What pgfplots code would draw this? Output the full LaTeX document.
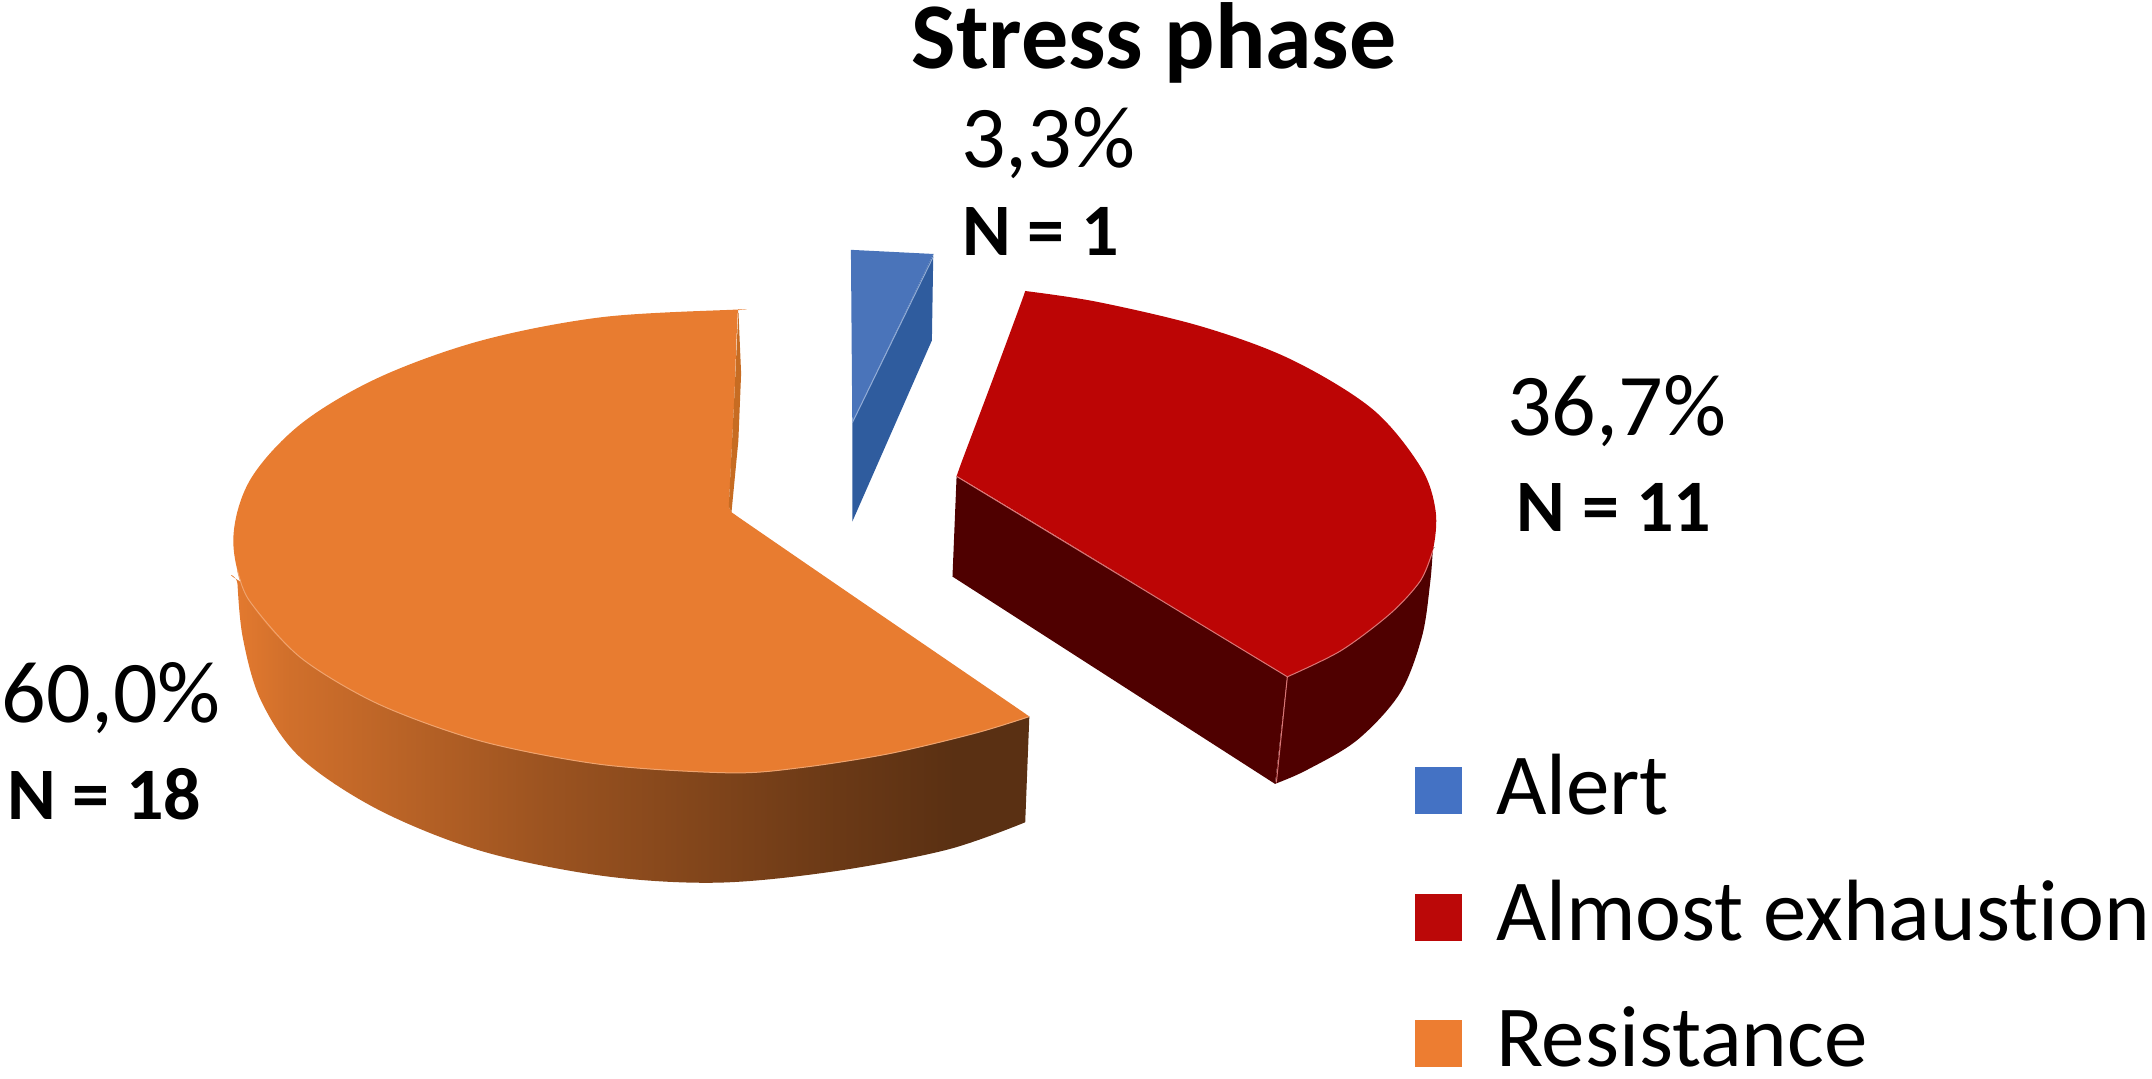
\documentclass[border=0pt]{standalone}
\usepackage{pgfplots}
\pgfplotsset{compat=1.18}
\usepackage{fontspec}
\setmainfont{Carlito}[Ligatures=NoCommon]

\definecolor{blueTop}{HTML}{4A74BA}
\definecolor{blueSide}{HTML}{2F5C9E}
\definecolor{redTop}{HTML}{BC0505}
\definecolor{redSide}{HTML}{4F0000}
\definecolor{orangeTop}{HTML}{E87C30}
\definecolor{orangeWall}{HTML}{C76C22}
\definecolor{legBlue}{HTML}{4472C4}
\definecolor{legRed}{HTML}{BB0808}
\definecolor{legOrange}{HTML}{ED7D31}

\pgfdeclarehorizontalshading{rim}{100bp}{
  color(0bp)=(orangeTop); color(25bp)=(orangeTop);
  color(29bp)=(orangeTop!90!black); color(45bp)=(orangeTop!67!black);
  color(62bp)=(orangeTop!47!black); color(70bp)=(orangeTop!39!black);
  color(100bp)=(orangeTop!39!black)}

\tikzset{
  pct/.style={anchor=base west, inner sep=0pt, font=\fontsize{44}{46}\selectfont},
  cnt/.style={anchor=base west, inner sep=0pt, font=\fontsize{37}{40}\selectfont\bfseries},
}
\pgfplotsset{
  face/.style={draw=none, forget plot},
  edge/.style={forget plot, line width=0.5pt, fill=none},
  swatch/.style={draw=none, legend image code/.code={
    \path[fill=none,draw=none] (0pt,0pt) -- (40.5pt,0pt);
    \fill[##1,draw=none] (0pt,-14.4pt) rectangle (23.3pt,9pt);}},
}

\begin{document}
\begin{tikzpicture}
\useasboundingbox (0pt,0pt) rectangle (1076pt,539.5pt);
\begin{axis}[
    at={(0pt,0pt)}, anchor=south west,
    scale only axis,
    width=1076pt,
    height=539.5pt,
    xmin=0, xmax=1568,
    ymin=0, ymax=786,
    y dir=reverse,
    hide axis,
    clip=false,
    legend style={
      at={(axis cs:1031,549)}, anchor=north west,
      draw=none, fill=none, inner sep=0pt, outer sep=0pt,
      font=\fontsize{43.5}{46}\selectfont,
      row sep=31.5pt,
      nodes={inner sep=0pt, outer sep=0pt, anchor=west},
    },
    legend cell align=left,
]
% orange slice: wall, then top face
\addplot[face, shading=rim, smooth, tension=0.55] coordinates {
  (747,599) (690,619) (606,635) (522,643) (439,638) (351,620) (276,590)
  (219,552) (190,510) (177,465) (173,425) (174,423) (250,470) (400,490)
  (600,505) (700,516) (745,521) (749,521.7) (750,522)};
\addplot[face, fill=orangeTop, smooth, tension=0.55] coordinates {
  (750,522) (711,534) (648,549) (585,559) (533,563) (439,557) (351,540)
  (276,513) (219,479) (182,438) (170,394) (182,350) (219,309) (276,275)
  (351,248) (439,231) (537,225.5) (538,226) (537.6,227) (536.5,250) (535,290)
  (532,350) (531.2,368) (531,369) (533,373) (535,374.5) (545,381.5) (620,433)
  (735,511.6) (748,520.6) (750,522)};
\addplot[face, fill=orangeWall] coordinates {(538,226) (540,272) (538,321) (533,373) (531,369) (535,290)};
\addplot[edge, draw=orangeTop!70!white, smooth] coordinates {
  (750,522) (711,534) (648,549) (585,559) (533,563) (439,557) (351,540)
  (276,513) (219,479) (182,438) (173,415)};
% blue slice
\addplot[face, fill=blueSide] coordinates {(680,185) (679,248) (621,380) (621,308)};
\addplot[face, fill=blueTop] coordinates {(620,182) (680,185) (621,308)};
\addplot[edge, draw=blueTop!60!white] coordinates {(680,187) (621,308)};
% red slice: walls, then top face
\addplot[face, fill=redSide] coordinates {(697,347) (938,492) (929,571) (694,420)};
\addplot[face, fill=redSide, smooth, tension=0.55] coordinates {
  (929,571) (952,561) (989,539) (1020,505) (1036,464) (1042,425) (1044,401)
  (1044.5,399) (1030,400) (1000,430) (970,470) (945,488) (939,492) (938,492)};
\addplot[face, fill=redTop, smooth, tension=0.55] coordinates {
  (747,212) (800,220) (876,238) (941,262) (1000,298) (1035,340) (1046,372)
  (1044,401) (1035,423) (1013,447) (977,474) (940,492) (938,493) (936.5,492)
  (925,485) (900,470) (820,421) (725,363.5) (705,351.5) (699,348) (697,347)
  (697.5,345.5) (702,333) (722,280) (742,226) (746.5,213.5) (747,212)};
\addplot[edge, draw=redTop!55!white] coordinates {(697,347) (938,493)};
\addplot[edge, draw=redTop!55!white] coordinates {(938,493) (930,570)};
\addplot[edge, draw=redTop!55!white, smooth] coordinates {(938,493) (977,474) (1013,447) (1035,423) (1044,401)};
% legend
\addlegendimage{swatch, fill=legBlue}
\addlegendentry{Alert}
\addlegendimage{swatch, fill=legRed}
\addlegendentry{Almost exhaustion}
\addlegendimage{swatch, fill=legOrange}
\addlegendentry{Resistance}
% texts
\node[anchor=base, font=\fontsize{47}{50}\selectfont\bfseries] at (axis cs:841,50) {Stress phase};
\node[pct] at (axis cs:700,122) {3,3\%};
\node[cnt] at (axis cs:701,186) {N = 1};
\node[pct] at (axis cs:1098,317) {36,7\%};
\node[cnt] at (axis cs:1105,387) {N = 11};
\node[pct] at (axis cs:1,526) {60,0\%};
\node[cnt] at (axis cs:5,597) {N = 18};
\end{axis}
\end{tikzpicture}
\end{document}
